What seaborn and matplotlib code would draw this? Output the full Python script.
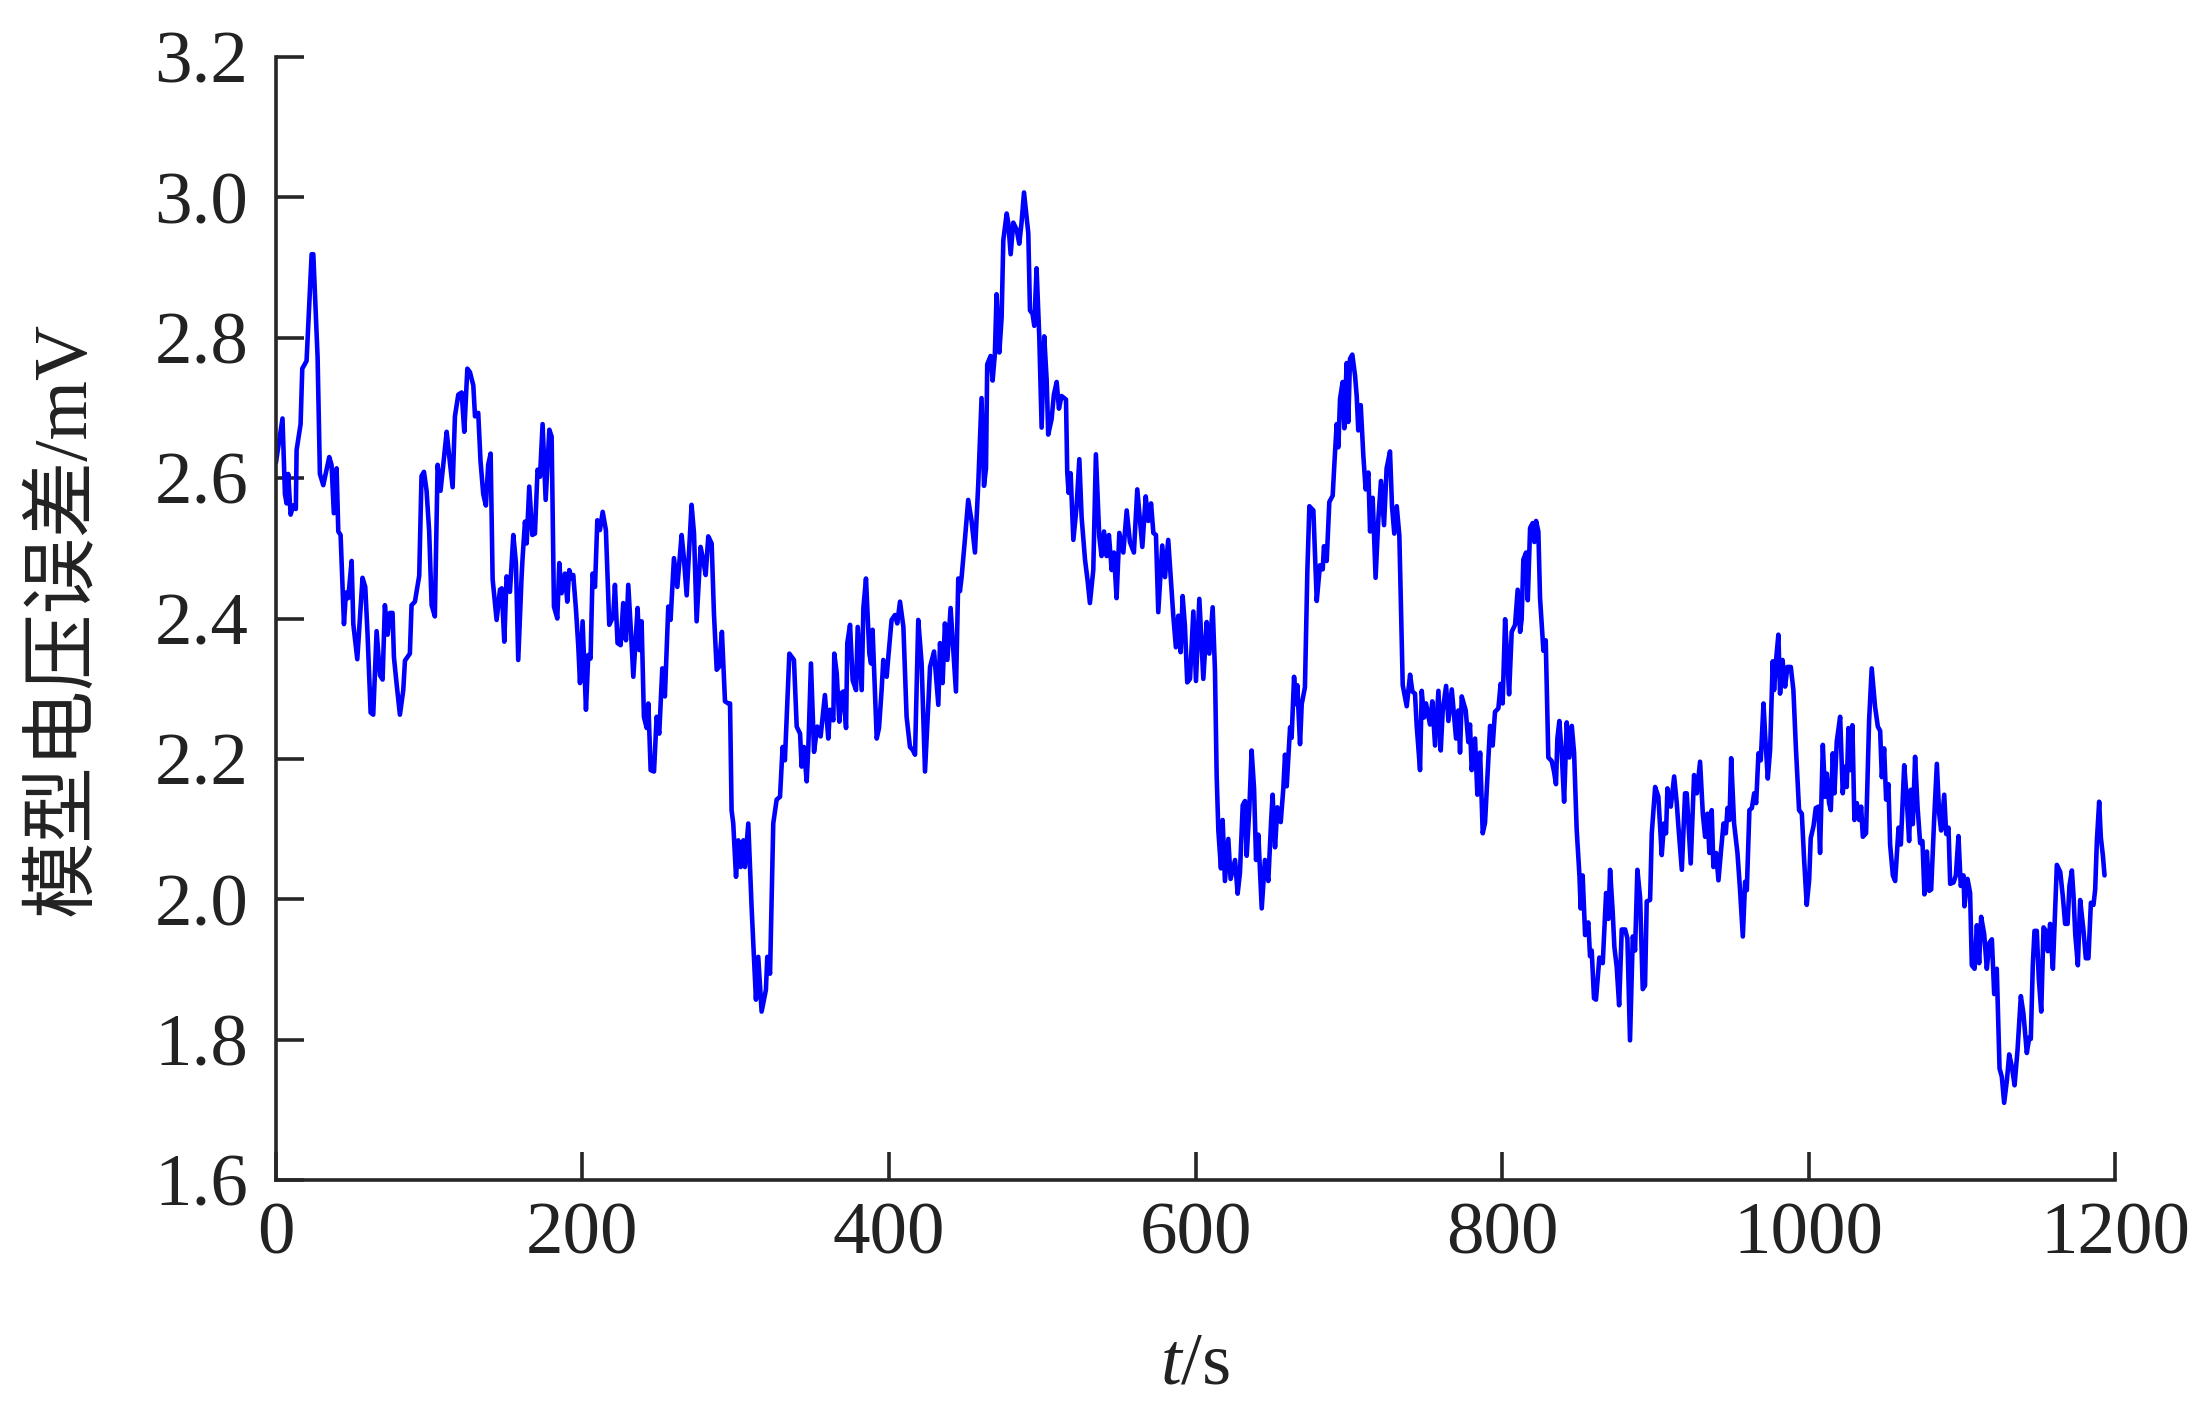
import numpy as np
import pandas as pd
import matplotlib.pyplot as plt
import seaborn as sns

# Data (t in s, model voltage error in mV)
time_s = [
    0.0, 4.3, 5.9, 7.0, 8.0, 9.6, 11.3, 13.0, 13.5, 16.1, 17.2, 20.0, 23.3, 24.4, 27.2, 28.7,
    30.9, 34.8, 36.3, 37.8, 39.6, 40.7, 42.2, 44.4, 45.7, 47.2, 49.4, 50.5, 53.1, 56.5, 58.3,
    59.8, 61.8, 63.5, 65.7, 67.9, 69.6, 71.1, 72.9, 74.4, 76.1, 77.0, 78.7, 80.9, 83.1, 84.2,
    87.4, 88.5, 90.7, 93.5, 95.0, 96.6, 98.3, 100.0, 101.6, 103.7, 105.5, 107.4, 109.2, 111.4,
    112.9, 115.3, 116.8, 119.0, 121.2, 122.9, 124.9, 126.6, 128.8, 129.9, 132.0, 133.5, 135.3,
    137.0, 138.5, 140.1, 141.4, 144.0,
    146.2, 147.3, 149.0, 150.5, 152.7, 154.9, 156.6, 158.1, 160.3, 161.0, 162.5, 163.6, 165.3,
    167.3, 169.0, 170.7, 172.3, 174.0, 176.0, 178.4, 179.9, 181.4, 183.6, 184.9, 186.4, 188.6,
    190.1, 191.4, 193.0, 194.0, 195.8, 197.3, 198.4, 200.1, 202.3, 203.8, 205.3, 206.6, 208.2,
    209.7, 211.4, 213.2, 215.3, 217.5, 220.1, 221.2, 222.9, 224.9, 226.6, 228.4, 229.9, 231.7,
    233.2, 236.0, 237.1, 238.6, 240.1, 241.9, 243.0, 244.5, 246.7, 248.4, 250.1, 252.1, 253.8,
    256.0, 257.5, 259.7, 261.9, 264.7, 266.2, 268.0, 271.2, 272.8, 274.5, 277.1, 278.8, 280.4,
    282.1, 284.3, 285.8, 287.6, 289.1, 291.0, 293.0, 295.2,
    296.3, 297.3, 298.4, 300.2, 301.7, 303.2, 305.0, 306.0, 308.2, 310.4, 313.2, 314.7, 316.9,
    319.7, 320.6, 322.4, 324.5, 326.7, 328.9, 330.6, 332.1, 335.0, 338.0, 339.8, 342.0, 343.0,
    344.5, 346.3, 347.4, 349.1, 351.1, 353.2, 355.4, 358.2, 360.4, 361.5, 363.7, 364.3, 365.9,
    367.6, 369.1, 370.2, 372.0, 372.8, 374.6, 376.3, 378.5, 379.6, 382.2, 383.3, 385.0, 387.2,
    388.3, 389.3, 392.0, 393.5, 395.2, 396.3, 398.5, 399.6, 401.7, 403.9, 405.4, 407.2, 409.4,
    411.5, 413.7, 415.4, 417.0, 419.1, 421.3, 423.5, 425.7, 426.8, 429.4, 430.7, 432.2, 433.3,
    435.0, 436.5, 438.1, 440.2, 442.4, 443.7, 445.2,
    446.3, 447.4, 449.6, 451.7, 453.9, 456.1, 458.3, 460.4, 462.0, 463.3, 464.1, 466.3, 467.6,
    469.1, 470.2, 472.0, 473.5, 474.6, 476.8, 477.8, 479.4, 481.1, 483.3, 485.0, 486.5, 488.1,
    490.9, 492.0, 493.7, 494.8, 496.3, 498.1, 499.6, 501.3, 502.9, 503.9, 506.1, 507.6, 509.4,
    510.9, 512.6, 515.5, 516.3, 517.2, 518.5, 520.3, 522.4, 524.2, 525.7, 527.9, 529.6, 531.1,
    533.3, 535.0, 537.2, 538.7, 540.3, 542.0, 543.5, 545.3, 546.8, 548.5, 550.3, 552.9, 555.1,
    557.2, 559.8, 562.0, 565.3, 567.5, 569.2, 571.0, 572.5, 574.2, 575.7, 578.3, 580.1, 582.2,
    585.5, 587.2, 588.8, 590.3, 591.6, 593.1, 594.6,
    596.4, 598.6, 600.3, 602.5, 605.1, 607.3, 609.0, 611.2, 612.7, 613.8, 614.9, 616.6, 617.7,
    619.2, 621.4, 622.9, 625.8, 627.5, 629.0, 630.8, 632.3, 633.4, 635.1, 636.6, 638.2, 639.5,
    641.0, 643.2, 645.3, 647.5, 649.3, 650.3, 651.9, 653.4, 655.6, 657.3, 658.4, 659.5, 661.7,
    662.7, 664.3, 665.6, 666.4, 668.2, 669.3, 671.4, 673.0, 674.3, 676.9, 679.1, 681.2, 683.0,
    683.8, 685.6, 687.3, 689.5, 690.6, 692.1, 693.2, 694.3, 696.0, 697.1, 698.6, 699.7, 700.8,
    702.3, 704.1, 705.2, 706.2, 707.8, 709.5, 711.0, 712.8, 713.9, 715.6, 717.5, 719.3, 721.0,
    723.0, 724.7, 726.9, 728.2, 729.7, 731.3, 733.0, 735.2, 737.8, 740.0, 741.5, 743.2, 744.3,
    746.5, 747.6, 749.1, 750.4, 753.0, 754.5, 756.3, 758.5, 760.0, 761.3, 763.5, 765.0, 767.2,
    770.0, 771.5, 772.6, 773.7, 776.3, 778.0, 779.1, 780.2, 782.4, 783.9, 785.7, 787.4, 788.9,
    792.2, 793.9, 795.4, 797.6, 799.1, 800.4, 802.0, 803.5, 804.6, 806.3, 808.5, 810.2, 811.8,
    812.8, 813.9, 815.7, 816.8, 818.3, 820.0, 821.1, 822.2, 823.7, 824.8, 827.0, 828.5, 830.2,
    832.4, 833.9, 835.2, 836.1, 837.4, 838.9, 840.5, 842.2, 843.9, 845.5, 847.0, 848.7, 850.5,
    851.3, 852.6, 854.2, 856.3, 857.4, 858.5, 860.0, 861.3, 863.5, 865.7, 867.9, 869.4, 870.5,
    872.2, 873.3, 874.8, 876.4, 878.1, 880.3, 881.8, 883.5, 885.3, 886.8, 888.3, 890.1, 891.8,
    893.3, 894.4,
    896.6, 897.7, 899.9, 902.0, 904.2, 905.7, 907.0, 907.9, 910.1, 912.3, 914.0, 915.1, 917.3,
    919.4, 920.5, 923.1, 925.3, 927.1, 929.2, 931.0, 932.5, 934.0, 935.3, 936.8, 937.9, 939.7,
    941.2, 942.9, 944.5, 946.0, 947.1, 948.4, 949.5, 951.4, 953.6, 955.3, 957.1, 958.6, 959.7,
    961.4, 963.0, 964.5, 965.8, 967.3, 968.8, 970.6, 971.6, 973.4, 974.9, 976.6, 977.5, 978.8,
    980.3, 981.4, 983.0, 984.7, 986.2, 988.4, 990.1, 991.7, 993.8, 995.6, 997.1, 998.8, 1000.4,
    1001.4, 1003.2, 1004.7, 1006.4, 1007.5, 1009.3, 1010.8, 1011.9, 1013.4, 1014.5, 1015.8,
    1016.9, 1018.4, 1020.6, 1022.3, 1023.8, 1024.9, 1026.0, 1027.1, 1028.6, 1029.9, 1031.5,
    1033.0, 1034.3, 1035.4, 1037.5, 1039.5, 1041.2, 1043.4, 1045.2,
    1046.7, 1047.8, 1049.3, 1050.6, 1052.1, 1053.2, 1055.0, 1056.5, 1058.7, 1060.2, 1062.4,
    1064.1, 1065.6, 1066.7, 1068.0, 1069.5, 1071.1, 1072.8, 1074.3, 1075.6, 1077.2, 1078.7,
    1080.0, 1081.9, 1083.7, 1085.2, 1086.5, 1088.5, 1089.8, 1091.3, 1092.4, 1094.6, 1096.1,
    1097.8, 1099.3, 1101.1, 1101.7, 1103.7, 1105.4, 1106.5, 1108.3, 1109.8, 1111.3, 1112.6,
    1114.6, 1116.3, 1118.0, 1119.6, 1121.1, 1122.8, 1124.6, 1126.1, 1127.6, 1129.4, 1130.9,
    1132.6, 1134.4, 1136.3, 1138.5, 1140.2, 1142.4, 1144.0, 1145.0, 1146.3, 1147.4, 1148.9,
    1150.2, 1151.8, 1153.3, 1154.8, 1156.1, 1157.6, 1159.4, 1160.5, 1162.0, 1164.2, 1165.9,
    1167.4, 1169.0, 1170.2, 1171.8, 1172.9, 1174.0, 1175.7, 1177.2, 1179.4, 1180.9, 1182.6,
    1184.2, 1185.9, 1187.0, 1188.1, 1189.6, 1190.7, 1192.0, 1193.1,
]

error_mv = [
    2.622, 2.685, 2.577, 2.564, 2.606, 2.548, 2.561, 2.556, 2.640, 2.677, 2.756, 2.767, 2.919,
    2.919, 2.772, 2.606, 2.590, 2.630, 2.619, 2.550, 2.614, 2.524, 2.519, 2.392, 2.437, 2.429,
    2.482, 2.392, 2.342, 2.458, 2.445, 2.377, 2.266, 2.263, 2.382, 2.319, 2.313, 2.419, 2.377,
    2.408, 2.408, 2.345, 2.308, 2.263, 2.298, 2.340, 2.350, 2.419, 2.424, 2.461, 2.603, 2.609,
    2.582, 2.524, 2.419, 2.403, 2.619, 2.582, 2.619, 2.666, 2.635, 2.587, 2.688, 2.719, 2.722,
    2.666, 2.756, 2.751, 2.732, 2.688, 2.693, 2.624, 2.577, 2.561, 2.619, 2.635, 2.456, 2.398,
    2.441, 2.443, 2.367, 2.460, 2.438, 2.519, 2.479, 2.341, 2.460, 2.488, 2.538, 2.507, 2.588,
    2.519, 2.521, 2.612, 2.602, 2.677, 2.569, 2.669, 2.659, 2.417, 2.400, 2.479, 2.436, 2.464,
    2.424, 2.469, 2.457, 2.462, 2.412, 2.360, 2.308, 2.396, 2.270, 2.348, 2.343, 2.464, 2.445,
    2.540, 2.526, 2.552, 2.526, 2.391, 2.403, 2.448, 2.365, 2.362, 2.422, 2.369, 2.448, 2.379,
    2.317, 2.415, 2.355, 2.396, 2.260, 2.244, 2.279, 2.184, 2.182, 2.260, 2.236, 2.329, 2.289,
    2.417, 2.398, 2.486, 2.445, 2.519, 2.486, 2.433, 2.562, 2.521, 2.396, 2.502, 2.483, 2.462,
    2.517, 2.507, 2.407, 2.327, 2.331, 2.381, 2.282, 2.279,
    2.279, 2.127, 2.108, 2.032, 2.084, 2.046, 2.084, 2.046, 2.108, 1.987, 1.857, 1.918, 1.840,
    1.871, 1.918, 1.894, 2.108, 2.142, 2.146, 2.217, 2.198, 2.350, 2.341, 2.246, 2.236, 2.189,
    2.217, 2.168, 2.217, 2.336, 2.210, 2.246, 2.232, 2.291, 2.229, 2.270, 2.255, 2.350, 2.322,
    2.253, 2.294, 2.296, 2.244, 2.365, 2.391, 2.312, 2.298, 2.388, 2.298, 2.415, 2.457, 2.350,
    2.336, 2.384, 2.229, 2.244, 2.298, 2.341, 2.317, 2.346, 2.398, 2.405, 2.393, 2.424, 2.388,
    2.260, 2.217, 2.213, 2.206, 2.398, 2.336, 2.182, 2.279, 2.331, 2.353, 2.317, 2.277, 2.365,
    2.308, 2.393, 2.341, 2.415, 2.341, 2.296, 2.457,
    2.439, 2.459, 2.514, 2.569, 2.539, 2.494, 2.594, 2.714, 2.589, 2.614, 2.762, 2.774, 2.739,
    2.777, 2.862, 2.779, 2.829, 2.939, 2.977, 2.964, 2.919, 2.964, 2.954, 2.934, 2.964, 3.007,
    2.949, 2.839, 2.834, 2.817, 2.899, 2.799, 2.672, 2.802, 2.739, 2.662, 2.684, 2.719, 2.737,
    2.699, 2.717, 2.712, 2.609, 2.579, 2.607, 2.512, 2.559, 2.627, 2.544, 2.484, 2.454, 2.422,
    2.469, 2.634, 2.517, 2.489, 2.524, 2.489, 2.519, 2.469, 2.494, 2.429, 2.522, 2.494, 2.554,
    2.509, 2.494, 2.584, 2.502, 2.574, 2.539, 2.564, 2.522, 2.519, 2.409, 2.504, 2.459, 2.512,
    2.404, 2.359, 2.404, 2.352, 2.432, 2.389, 2.309,
    2.314, 2.410, 2.311, 2.428, 2.314, 2.395, 2.350, 2.416, 2.326, 2.176, 2.098, 2.044, 2.113,
    2.026, 2.086, 2.029, 2.056, 2.008, 2.038, 2.134, 2.140, 2.062, 2.128, 2.212, 2.158, 2.056,
    2.092, 1.987, 2.056, 2.026, 2.110, 2.149, 2.074, 2.131, 2.110, 2.158, 2.206, 2.161, 2.245,
    2.230, 2.317, 2.278, 2.305, 2.221, 2.278, 2.302, 2.470, 2.560, 2.554, 2.425, 2.476, 2.470,
    2.503, 2.482, 2.566, 2.575, 2.620, 2.677, 2.644, 2.713, 2.737, 2.671, 2.764, 2.680, 2.770,
    2.776, 2.746, 2.716, 2.668, 2.704, 2.632, 2.584, 2.608, 2.524, 2.572, 2.458, 2.542, 2.596,
    2.533, 2.614, 2.638, 2.560, 2.521, 2.560, 2.518, 2.305, 2.275, 2.320, 2.296, 2.293, 2.248,
    2.184, 2.297, 2.259, 2.279, 2.249, 2.282, 2.219, 2.297, 2.212, 2.269, 2.304, 2.254, 2.299,
    2.229, 2.269, 2.209, 2.289, 2.269, 2.224, 2.249, 2.184, 2.229, 2.149, 2.209, 2.094, 2.109,
    2.247, 2.219, 2.267, 2.272, 2.307, 2.279, 2.399, 2.339, 2.292, 2.381, 2.391, 2.441, 2.381,
    2.399, 2.484, 2.494, 2.426, 2.529, 2.536, 2.509, 2.539, 2.524, 2.429, 2.354, 2.369, 2.202,
    2.197, 2.182, 2.164, 2.229, 2.254, 2.209, 2.139, 2.252, 2.202, 2.247, 2.209, 2.099, 2.034,
    1.987, 2.034, 1.949, 1.967, 1.919, 1.927, 1.859, 1.857, 1.917, 1.909, 2.009, 1.972, 2.042,
    1.982, 1.932, 1.904, 1.849, 1.957, 1.957, 1.944, 1.799, 1.947, 1.927, 2.042, 2.002, 1.872,
    1.877, 1.997,
    1.999, 2.094, 2.160, 2.146, 2.063, 2.108, 2.094, 2.158, 2.132, 2.175, 2.137, 2.103, 2.042,
    2.151, 2.151, 2.051, 2.177, 2.151, 2.196, 2.122, 2.089, 2.122, 2.066, 2.127, 2.046, 2.066,
    2.027, 2.070, 2.108, 2.094, 2.130, 2.113, 2.201, 2.108, 2.066, 2.013, 1.947, 2.025, 2.013,
    2.127, 2.130, 2.151, 2.137, 2.208, 2.198, 2.279, 2.236, 2.172, 2.213, 2.339, 2.298, 2.341,
    2.377, 2.293, 2.341, 2.303, 2.331, 2.331, 2.298, 2.217, 2.127, 2.122, 2.056, 1.992, 2.028,
    2.087, 2.104, 2.130, 2.132, 2.066, 2.220, 2.146, 2.179, 2.137, 2.127, 2.208,
    2.151, 2.225, 2.260, 2.151, 2.189, 2.160, 2.244, 2.184, 2.248, 2.113, 2.137,
    2.113, 2.132, 2.089, 2.094, 2.255, 2.329, 2.274, 2.246,
    2.240, 2.174, 2.215, 2.142, 2.164, 2.078, 2.034, 2.026, 2.102, 2.078, 2.191,
    2.142, 2.083, 2.156, 2.107, 2.203, 2.132, 2.080, 2.083, 2.007, 2.068, 2.012,
    2.014, 2.112, 2.193, 2.122, 2.098, 2.149, 2.093, 2.102, 2.022, 2.024, 2.034,
    2.090, 2.019, 2.034, 1.990, 2.029, 2.009, 1.906, 1.901, 1.963, 1.909, 1.975,
    1.950, 1.901, 1.938, 1.943, 1.865, 1.901, 1.759, 1.747, 1.710, 1.742, 1.779,
    1.762, 1.735, 1.784, 1.862, 1.837, 1.781, 1.803, 1.801, 1.906, 1.955, 1.955,
    1.887, 1.840, 1.960, 1.955, 1.926, 1.965, 1.901, 1.965, 2.049, 2.039, 2.004,
    1.965, 1.965, 2.019, 2.041, 2.004, 1.950, 1.906, 1.999, 1.955, 1.916, 1.916,
    1.995, 1.992, 2.014, 2.083, 2.139, 2.088, 2.063, 2.034,
]

x_ticks = [0, 200, 400, 600, 800, 1000, 1200]
y_ticks = [1.6, 1.8, 2.0, 2.2, 2.4, 2.6, 2.8, 3.0, 3.2]

df = pd.DataFrame({'t': time_s, 'mv': error_mv})

sns.set_style('white')
plt.rcParams['font.family'] = ['Liberation Serif', 'Noto Sans CJK SC']
plt.rcParams['mathtext.fontset'] = 'custom'
plt.rcParams['mathtext.rm'] = 'Liberation Serif'
plt.rcParams['mathtext.it'] = 'Liberation Serif:italic'

axis_col = '#262626'

fig = plt.figure(figsize=(21.95, 14.07), dpi=100)
ax = fig.add_axes([0.1257, 0.1613, 0.8379, 0.7982])

sns.lineplot(data=df, x='t', y='mv', color='#0000ff', linewidth=3.3,
             estimator=None, sort=False, ax=ax)

ax.set_xlim(0, 1200)
ax.set_ylim(1.6, 3.2)
ax.set_xticks(x_ticks)
ax.set_yticks(y_ticks)
ax.set_yticklabels([f'{v:.1f}' for v in y_ticks])

for side in ['top', 'right']:
    ax.spines[side].set_visible(False)
for side in ['left', 'bottom']:
    ax.spines[side].set_color(axis_col)
    ax.spines[side].set_linewidth(2.6)

# seaborn's white style hides tick marks; turn them back on, pointing inward
ax.tick_params(axis='both', direction='in', length=20, width=2.6,
               bottom=True, left=True, top=False, right=False,
               color=axis_col, labelcolor='#222222', labelsize=54)
ax.tick_params(axis='y', pad=20)
ax.tick_params(axis='x', pad=16)

ax.set_xlabel('$t$/s', fontsize=54, color='#222222')
ax.xaxis.set_label_coords(0.5, -0.135)
ax.set_ylabel('模型电压误差/mV', fontsize=55, color='#222222')
ax.yaxis.set_label_coords(-0.095, 0.5)

plt.savefig('out.png', dpi=100)
plt.close()
